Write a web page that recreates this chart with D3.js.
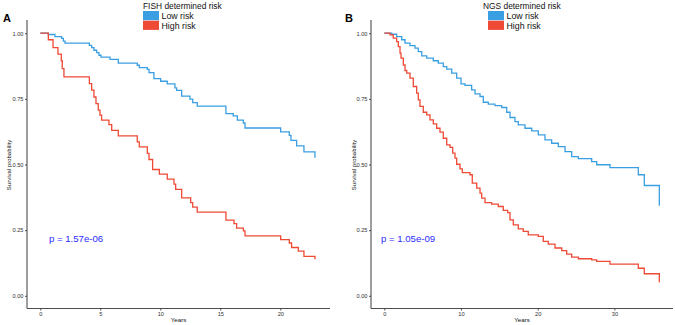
<!DOCTYPE html>
<html>
<head>
<meta charset="utf-8">
<script src="https://cdn.jsdelivr.net/npm/d3@7"></script>
<style>
html,body{margin:0;padding:0;background:#fff;}
svg{display:block;font-family:"Liberation Sans",Arial,sans-serif;}
</style>
</head>
<body>
<svg id="chart" width="675" height="325"></svg>
<script>
// ---------- data ----------
const seriesNames = ["Low risk", "High risk"];
const legendTitles = ["FISH determined risk", "NGS determined risk"];
const panelLabels = ["A", "B"];
const pValues = ["p = 1.57e-06", "p = 1.05e-09"];
const yTicks = [0, 0.25, 0.5, 0.75, 1];
const xTicksA = [0, 5, 10, 15, 20];
const xTicksB = [0, 10, 20, 30];

// Panel A, FISH, low risk
const fishLowTime = [0, 0.67, 1.22, 1.78, 1.92, 2.06, 4.09, 4.28, 4.47, 4.70, 4.89, 5.06, 5.81, 6.50, 8.08, 8.25, 8.92, 9.06, 9.47, 10.03, 10.58, 11.22, 11.36, 11.78, 12.47, 12.70, 13.08, 15.47, 16.08, 16.42, 16.92, 17.06, 20.03, 20.75, 20.89, 21.36, 21.97, 22.89];
const fishLowSurv = [1, 0.995, 0.987, 0.980, 0.970, 0.962, 0.954, 0.945, 0.935, 0.926, 0.916, 0.909, 0.900, 0.886, 0.878, 0.869, 0.862, 0.850, 0.827, 0.817, 0.807, 0.792, 0.782, 0.760, 0.749, 0.736, 0.722, 0.694, 0.685, 0.669, 0.658, 0.639, 0.624, 0.611, 0.592, 0.571, 0.548, 0.526];
// Panel A, FISH, high risk
const fishHighTime = [0, 0.67, 1.06, 1.47, 1.75, 1.83, 1.97, 4.09, 4.28, 4.47, 4.64, 4.83, 4.97, 5.11, 5.72, 5.95, 6.50, 8.08, 8.25, 8.92, 9.06, 9.36, 9.92, 10.58, 11.14, 11.28, 11.78, 12.53, 12.70, 13.08, 15.47, 16.14, 16.36, 16.92, 17.06, 20.03, 20.75, 20.94, 21.50, 21.97, 22.89];
const fishHighSurv = [1, 0.975, 0.945, 0.920, 0.895, 0.865, 0.834, 0.808, 0.783, 0.757, 0.732, 0.707, 0.688, 0.669, 0.652, 0.630, 0.609, 0.586, 0.567, 0.542, 0.519, 0.481, 0.463, 0.444, 0.425, 0.405, 0.373, 0.355, 0.338, 0.319, 0.288, 0.275, 0.258, 0.247, 0.228, 0.214, 0.201, 0.184, 0.170, 0.150, 0.139];
// Panel B, NGS, low risk
const ngsLowTime = [0, 0.96, 1.61, 2.27, 2.70, 3.35, 4.00, 4.43, 4.88, 5.53, 6.39, 7.04, 7.69, 8.14, 8.79, 9.44, 10.0, 10.52, 11.39, 11.83, 12.48, 12.91, 13.56, 14.43, 15.31, 15.96, 16.39, 17.04, 17.47, 18.34, 19.22, 20.08, 20.95, 21.82, 22.69, 23.56, 24.43, 25.29, 27.04, 27.69, 29.43, 33.12, 33.90, 35.86];
const ngsLowSurv = [1, 0.996, 0.987, 0.975, 0.962, 0.953, 0.943, 0.930, 0.914, 0.905, 0.895, 0.886, 0.873, 0.863, 0.848, 0.829, 0.807, 0.801, 0.784, 0.769, 0.759, 0.737, 0.730, 0.724, 0.717, 0.699, 0.679, 0.663, 0.651, 0.638, 0.628, 0.613, 0.594, 0.581, 0.568, 0.549, 0.530, 0.522, 0.511, 0.499, 0.488, 0.461, 0.420, 0.343];
// Panel B, NGS, high risk
const ngsHighTime = [0, 0.74, 1.17, 1.61, 1.83, 2.05, 2.18, 2.48, 2.70, 2.92, 3.35, 3.78, 4.22, 4.43, 4.65, 5.08, 5.53, 5.96, 6.39, 6.83, 7.26, 7.69, 8.14, 8.57, 8.92, 9.22, 9.44, 9.87, 10.17, 11.17, 11.47, 12.05, 12.48, 12.70, 13.13, 14.0, 14.86, 15.51, 16.09, 16.39, 16.82, 17.47, 18.12, 18.77, 20.08, 20.73, 21.38, 22.26, 23.13, 23.78, 24.43, 25.29, 27.04, 27.69, 29.43, 33.12, 33.90, 35.86];
const ngsHighSurv = [1, 0.994, 0.981, 0.968, 0.949, 0.924, 0.905, 0.879, 0.858, 0.848, 0.829, 0.797, 0.772, 0.746, 0.721, 0.699, 0.689, 0.670, 0.655, 0.638, 0.623, 0.600, 0.575, 0.565, 0.543, 0.524, 0.501, 0.483, 0.469, 0.461, 0.429, 0.410, 0.391, 0.372, 0.355, 0.349, 0.340, 0.325, 0.317, 0.289, 0.270, 0.255, 0.245, 0.232, 0.226, 0.207, 0.197, 0.182, 0.172, 0.159, 0.147, 0.141, 0.137, 0.131, 0.121, 0.105, 0.084, 0.052];

const colors = ["#3A9FE2", "#EE4A35"];

const panels = [
  {label: panelLabels[0], title: legendTitles[0], p: pValues[0], xTicks: xTicksA, xMax: 23,
   left: 27, right: 330, x0: 40.3, x1: 316.3, legendX: 143, titleX: 143,
   series: [[fishLowTime, fishLowSurv], [fishHighTime, fishHighSurv]], pX: 49, ylabX: 9, labX: 3},
  {label: panelLabels[1], title: legendTitles[1], p: pValues[1], xTicks: xTicksB, xMax: 36,
   left: 371, right: 673, x0: 384.3, x1: 660.4, legendX: 488, titleX: 483,
   series: [[ngsLowTime, ngsLowSurv], [ngsHighTime, ngsHighSurv]], pX: 381, ylabX: 353.5, labX: 345}
];

const svg = d3.select("#chart");
const panelTop = 20, panelBottom = 308.5;

panels.forEach(P => {
  const g = svg.append("g");
  const x = d3.scaleLinear().domain([0, P.xMax]).range([P.x0, P.x1]);
  const y = d3.scaleLinear().domain([0, 1]).range([295.8, 33.2]);

  // axes lines
  g.append("line").attr("x1", P.left).attr("x2", P.left).attr("y1", panelTop).attr("y2", panelBottom)
    .attr("stroke", "#4d4d4d").attr("stroke-width", 1.1);
  g.append("line").attr("x1", P.left).attr("x2", P.right).attr("y1", panelBottom).attr("y2", panelBottom)
    .attr("stroke", "#4d4d4d").attr("stroke-width", 1.1);

  const ya = g.append("g").attr("transform", `translate(${P.left},0)`)
    .call(d3.axisLeft(y).tickValues(yTicks).tickFormat(d3.format(".2f")).tickSize(2).tickPadding(1.5));
  ya.select(".domain").remove();
  ya.selectAll("line").attr("stroke", "#4d4d4d");
  ya.selectAll("text").attr("font-size", "5.7px").attr("fill", "#333").attr("font-family", "Liberation Sans, Arial, sans-serif");

  const xa = g.append("g").attr("transform", `translate(0,${panelBottom})`)
    .call(d3.axisBottom(x).tickValues(P.xTicks).tickFormat(d3.format("d")).tickSize(2).tickPadding(1.5));
  xa.select(".domain").remove();
  xa.selectAll("line").attr("stroke", "#4d4d4d");
  xa.selectAll("text").attr("font-size", "5.7px").attr("fill", "#333").attr("font-family", "Liberation Sans, Arial, sans-serif");

  // axis titles
  g.append("text").attr("x", (P.left + P.right) / 2).attr("y", 321.5).attr("text-anchor", "middle")
    .attr("font-size", "6.2px").attr("fill", "#111").text("Years");
  g.append("text").attr("transform", `translate(${P.ylabX + 2},165) rotate(-90)`).attr("text-anchor", "middle")
    .attr("font-size", "6px").attr("fill", "#111").text("Survival probability");

  // curves
  const line = d3.line().x(d => x(d[0])).y(d => y(d[1])).curve(d3.curveStepAfter);
  P.series.forEach((s, i) => {
    const pts = s[0].map((t, k) => [t, s[1][k]]);
    g.append("path").datum(pts).attr("d", line).attr("fill", "none")
      .attr("stroke", colors[i]).attr("stroke-width", 1.3);
  });

  // p value
  g.append("text").attr("x", P.pX).attr("y", 241.5).attr("font-size", "9.6px").attr("fill", "#2b2bff")
    .text(P.p);

  // panel label
  g.append("text").attr("x", P.labX).attr("y", 22).attr("font-size", "11px").attr("font-weight", "bold")
    .attr("fill", "#000").text(P.label);

  // legend
  g.append("text").attr("x", P.titleX).attr("y", 8.5).attr("font-size", "8.4px").attr("fill", "#111").text(P.title);
  seriesNames.forEach((n, i) => {
    g.append("rect").attr("x", P.legendX).attr("y", 11 + i * 9.7).attr("width", 16).attr("height", 9.2)
      .attr("fill", colors[i]);
    g.append("text").attr("x", P.legendX + 18.5).attr("y", 18.8 + i * 9.7).attr("font-size", "8.8px")
      .attr("fill", "#111").text(n);
  });
});
</script>
</body>
</html>
